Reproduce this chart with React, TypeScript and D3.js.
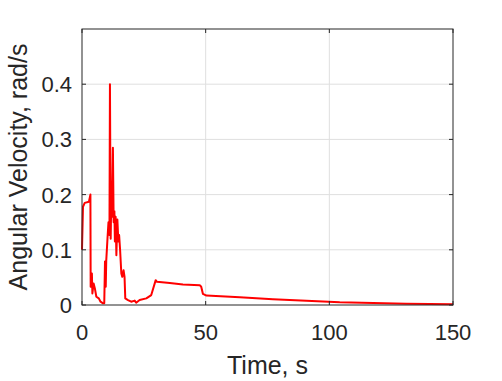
import React, { useEffect, useRef } from 'react';
import * as d3 from 'd3';

// time, s
const TIME = [
  0, 0.4, 1.1, 2.8, 3.4, 3.5, 4.0, 4.2, 4.7, 5.2, 5.8, 6.8, 7.5, 8.5, 9.0, 9.3, 9.6, 9.8,
  10.3, 10.7, 11.1, 11.3, 11.6, 11.9, 12.1, 12.5, 12.8, 13.1, 13.3, 13.6, 13.9, 14.3,
  14.7, 15.0, 15.4, 15.9, 16.3, 16.8, 17.2, 17.5, 18.6, 19.9, 21.3, 21.9, 23.3, 26, 28,
  29.8, 30.3, 35.5, 40.8, 47.6, 48.2, 48.9, 50.3, 63.8, 77.2, 90.7, 104.2, 117.7, 131, 150,
];
// angular velocity, rad/s
const OMEGA = [
  0.1, 0.178, 0.185, 0.187, 0.2, 0.033, 0.057, 0.021, 0.039, 0.03, 0.015, 0.012, 0.006,
  0.003, 0.003, 0.079, 0.033, 0.08, 0.12, 0.15, 0.127, 0.4, 0.12, 0.21, 0.16, 0.285, 0.15,
  0.17, 0.115, 0.16, 0.09, 0.155, 0.115, 0.127, 0.1, 0.057, 0.051, 0.063, 0.051, 0.012,
  0.009, 0.006, 0.008, 0.004, 0.009, 0.012, 0.018, 0.045, 0.042, 0.04, 0.037, 0.036,
  0.033, 0.02, 0.017, 0.014, 0.0105, 0.0078, 0.0048, 0.0036, 0.0024, 0.0012,
];
const X_TICKS = [0, 50, 100, 150];
const Y_TICKS = [0, 0.1, 0.2, 0.3, 0.4];

const App = () => {
  const ref = useRef<SVGSVGElement | null>(null);

  useEffect(() => {
    const width = 502,
      height = 381,
      margin = { top: 29, right: 49, bottom: 76, left: 82 },
      ink = '#262626',
      tickLen = 4;

    const svg = d3.select(ref.current);
    svg.selectAll('*').remove();

    const x = d3.scaleLinear().domain([0, 150]).range([margin.left, width - margin.right]);
    const y = d3.scaleLinear().domain([0, 0.5]).range([height - margin.bottom, margin.top]);

    const [x0, x1] = x.range();
    const [y0, y1] = y.range();

    svg.append('rect').attr('x', x0).attr('y', y1).attr('width', x1 - x0).attr('height', y0 - y1).attr('fill', '#fff');

    // grid
    const grid = svg.append('g').attr('stroke', '#dfdfdf').attr('stroke-width', 1);
    X_TICKS.slice(1, -1).forEach(t => {
      grid.append('line').attr('x1', x(t)).attr('x2', x(t)).attr('y1', y0).attr('y2', y1);
    });
    Y_TICKS.slice(1).forEach(t => {
      grid.append('line').attr('x1', x0).attr('x2', x1).attr('y1', y(t)).attr('y2', y(t));
    });

    // data line
    const pts: [number, number][] = TIME.map((t, i) => [t, OMEGA[i]]);
    const line = d3
      .line<[number, number]>()
      .x(d => x(d[0]))
      .y(d => y(d[1]));
    svg
      .append('path')
      .datum(pts)
      .attr('d', line)
      .attr('fill', 'none')
      .attr('stroke', '#ff0000')
      .attr('stroke-width', 2)
      .attr('stroke-linejoin', 'round');

    // box and inward ticks
    const frame = svg.append('g').attr('stroke', ink).attr('stroke-width', 1).attr('fill', 'none');
    frame.append('rect').attr('x', x0).attr('y', y1).attr('width', x1 - x0).attr('height', y0 - y1);
    X_TICKS.forEach(t => {
      frame.append('line').attr('x1', x(t)).attr('x2', x(t)).attr('y1', y0).attr('y2', y0 - tickLen);
      frame.append('line').attr('x1', x(t)).attr('x2', x(t)).attr('y1', y1).attr('y2', y1 + tickLen);
    });
    Y_TICKS.forEach(t => {
      frame.append('line').attr('x1', x0).attr('x2', x0 + tickLen).attr('y1', y(t)).attr('y2', y(t));
      frame.append('line').attr('x1', x1).attr('x2', x1 - tickLen).attr('y1', y(t)).attr('y2', y(t));
    });

    const font = 'Liberation Sans, Arial, Helvetica, sans-serif';

    // tick labels
    svg
      .append('g')
      .selectAll('text')
      .data(X_TICKS)
      .enter()
      .append('text')
      .attr('x', d => x(d))
      .attr('y', 340)
      .attr('text-anchor', 'middle')
      .style('font-family', font)
      .style('font-size', '22px')
      .style('fill', ink)
      .text(d => d3.format('d')(d));

    svg
      .append('g')
      .selectAll('text')
      .data(Y_TICKS)
      .enter()
      .append('text')
      .attr('x', x0 - 10)
      .attr('y', d => y(d) + 8)
      .attr('text-anchor', 'end')
      .style('font-family', font)
      .style('font-size', '22px')
      .style('fill', ink)
      .text(d => (d === 0 ? '0' : d3.format('.1f')(d)));

    // axis labels
    svg
      .append('text')
      .attr('x', (x0 + x1) / 2)
      .attr('y', 374)
      .attr('text-anchor', 'middle')
      .style('font-family', font)
      .style('font-size', '25px')
      .style('fill', ink)
      .text('Time, s');

    svg
      .append('text')
      .attr('transform', `translate(27, ${(y0 + y1) / 2}) rotate(-90)`)
      .attr('text-anchor', 'middle')
      .style('font-family', font)
      .style('font-size', '25px')
      .style('fill', ink)
      .text('Angular Velocity, rad/s');
  }, []);

  return (
    <svg
      ref={ref}
      width={502}
      height={381}
      style={{ position: 'absolute', left: 0, top: 0, background: '#fff' }}
    />
  );
};

export default App;
